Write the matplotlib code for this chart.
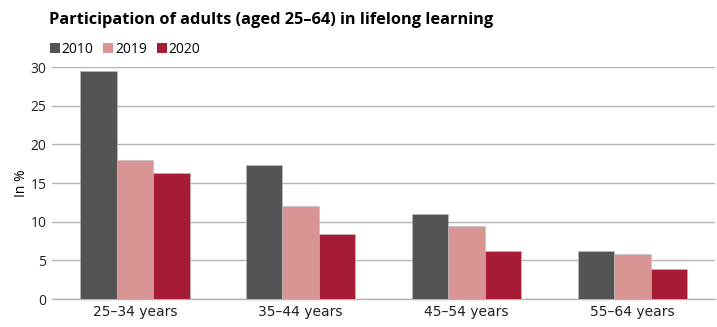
import numpy as np
import matplotlib
matplotlib.use('Agg')
import matplotlib.pyplot as plt
from matplotlib.patches import Patch

# age groups and participation (%) per year
groups = ['25\u201334 years', '35\u201344 years', '45\u201354 years', '55\u201364 years']
years = ['2010', '2019', '2020']
v2010 = [29.5, 17.3, 11.0, 6.2]
v2019 = [18.0, 12.0, 9.4, 5.8]
v2020 = [16.3, 8.4, 6.2, 3.9]
colors = ['#535453', '#d99594', '#a61c34']

plt.rcParams['font.family'] = ['Open Sans', 'DejaVu Sans']

fig = plt.figure(figsize=(7.17, 3.27), dpi=100)
ax = fig.add_axes([0.0725, 0.0856, 0.925, 0.709])

x = np.arange(len(groups))
w = 0.22
for i, vals in enumerate([v2010, v2019, v2020]):
    ax.bar(x + (i - 1) * w, vals, w, color=colors[i], edgecolor='#bdbdbd',
           linewidth=0.4, zorder=3)

ax.set_xlim(-0.5, len(groups) - 0.5)
ax.set_ylim(0, 30)
ax.set_yticks([0, 5, 10, 15, 20, 25, 30])
ax.set_xticks(x)
ax.set_xticklabels(groups, family='Liberation Sans Narrow', fontsize=10)
for t in ax.get_yticklabels():
    t.set_fontsize(10)
ax.tick_params(axis='both', length=0, pad=4, colors='#222222')
ax.grid(axis='y', color='#b4b4b4', linewidth=1.0, zorder=0)
for s in ['top', 'right', 'left']:
    ax.spines[s].set_visible(False)
ax.spines['bottom'].set_color('#b4b4b4')
ax.spines['bottom'].set_linewidth(1.0)

ax.set_ylabel('In %', fontsize=10, labelpad=1)

fig.text(0.068, 0.94, 'Participation of adults (aged 25\u201364) in lifelong learning',
         fontsize=11.8, fontweight='bold', va='center', ha='left')

handles = [Patch(facecolor=c, edgecolor='none', label=y) for c, y in zip(colors, years)]
fig.legend(handles=handles, loc='center left', bbox_to_anchor=(0.062, 0.85),
           ncol=3, frameon=False, fontsize=10, handlelength=0.7, handleheight=0.7,
           handletextpad=0.15, columnspacing=0.7, borderaxespad=0)

fig.savefig('out.png', dpi=100)
